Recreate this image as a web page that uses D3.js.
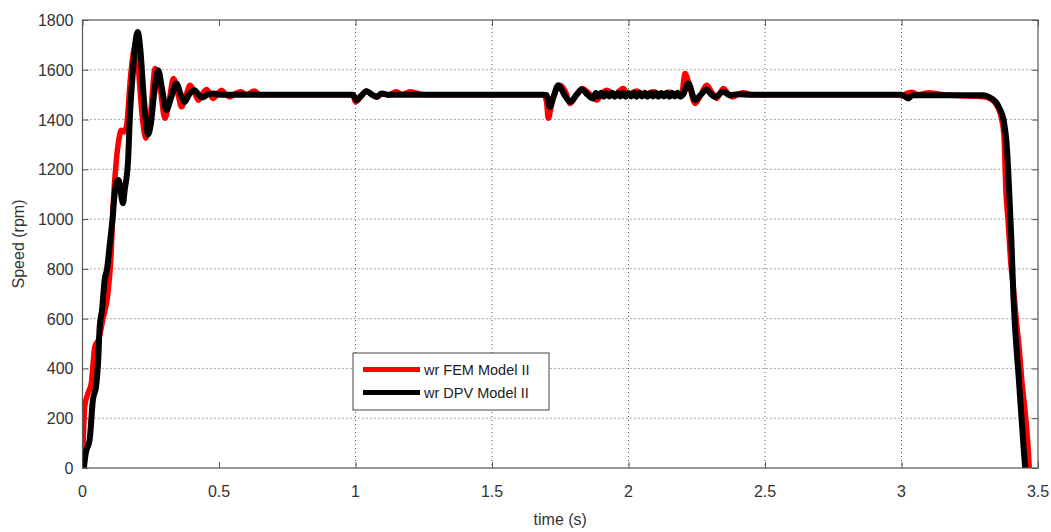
<!DOCTYPE html>
<html>
<head>
<meta charset="utf-8">
<script src="https://cdn.jsdelivr.net/npm/d3@7"></script>
<style>
  body { margin: 0; background: #fff; }
  svg text { font-family: "Liberation Sans", Arial, sans-serif; }
</style>
</head>
<body>
<div id="chart"></div>
<script>
// ---- data ----
const xTicks = [0, 0.5, 1, 1.5, 2, 2.5, 3, 3.5];
const yTicks = [0, 200, 400, 600, 800, 1000, 1200, 1400, 1600, 1800];
const seriesNames = ["wr FEM Model II", "wr DPV Model II"];

// FEM (red)
const femTime = [0, 0.008, 0.02, 0.032, 0.045, 0.06, 0.075, 0.093, 0.105, 0.112, 0.124, 0.135, 0.142, 0.152, 0.162,
  0.175, 0.188, 0.197, 0.208, 0.22, 0.232, 0.25, 0.266, 0.285, 0.302, 0.318, 0.333, 0.348, 0.363, 0.38, 0.394,
  0.41, 0.424, 0.44, 0.455, 0.468, 0.478, 0.495, 0.51, 0.525, 0.54, 0.56, 0.58, 0.6, 0.63, 0.65, 0.7,
  0.99, 1.0, 1.015, 1.04, 1.06, 1.078, 1.1, 1.12, 1.15, 1.17, 1.2, 1.25, 1.3,
  1.69, 1.7, 1.706, 1.72, 1.749, 1.77, 1.786, 1.81, 1.83, 1.86, 1.884, 1.9, 1.92, 1.95, 1.98, 2.0, 2.03, 2.06,
  2.09, 2.12, 2.15, 2.18, 2.195, 2.207, 2.22, 2.244, 2.265, 2.286, 2.305, 2.323, 2.347, 2.365, 2.38, 2.4, 2.42,
  2.45, 2.5, 2.99, 3.0, 3.02, 3.04, 3.06, 3.1, 3.15, 3.3, 3.33, 3.35, 3.365, 3.375, 3.383, 3.39, 3.4, 3.41,
  3.42, 3.432, 3.44, 3.455, 3.465, 3.468];
const femSpeed = [0, 246, 300, 340, 487, 520, 600, 700, 863, 1050, 1237, 1330, 1357, 1350, 1380,
  1560, 1680, 1710, 1560, 1400, 1325, 1430, 1605, 1520, 1405, 1480, 1565, 1510, 1451, 1500, 1538,
  1510, 1478, 1505, 1521, 1500, 1485, 1505, 1518, 1500, 1491, 1505, 1512, 1500, 1515, 1500, 1500,
  1500, 1470, 1485, 1515, 1500, 1490, 1505, 1498, 1512, 1500, 1512, 1500, 1500,
  1500, 1470, 1405, 1470, 1538, 1510, 1465, 1500, 1525, 1500, 1478, 1500, 1518, 1500, 1525, 1500, 1515, 1498,
  1512, 1500, 1510, 1500, 1505, 1585, 1550, 1465, 1500, 1538, 1510, 1485, 1525, 1505, 1491, 1500, 1508,
  1500, 1500, 1500, 1495, 1505, 1510, 1500, 1508, 1500, 1492, 1480, 1455, 1410, 1340, 1100, 1000, 830, 720,
  600, 470, 360, 200, 60, 0];

// DPV (black)
const dpvTime = [0.005, 0.012, 0.026, 0.038, 0.05, 0.057, 0.063, 0.072, 0.081, 0.09, 0.1, 0.11, 0.118, 0.125,
  0.132, 0.14, 0.148, 0.155, 0.167, 0.173, 0.185, 0.195, 0.203, 0.212, 0.225, 0.24, 0.25, 0.262, 0.277, 0.292,
  0.307, 0.325, 0.344, 0.36, 0.374, 0.39, 0.411, 0.425, 0.441, 0.46, 0.48, 0.5,
  0.99, 1.004, 1.02, 1.041, 1.06, 1.078, 1.095, 1.12,
  1.69, 1.7, 1.712, 1.725, 1.743, 1.765, 1.786, 1.81, 1.829, 1.85, 1.871,
  1.88, 1.89, 1.9, 1.91, 1.92, 1.93, 1.94, 1.95, 1.96, 1.97, 1.98, 1.99, 2.0, 2.01, 2.02, 2.03, 2.04, 2.05,
  2.06, 2.07, 2.08, 2.09, 2.1, 2.11, 2.12, 2.13, 2.14, 2.15, 2.16, 2.17, 2.18, 2.19, 2.2,
  2.219, 2.244, 2.265, 2.286, 2.3, 2.317, 2.347, 2.37, 2.4, 2.45,
  3.0, 3.025, 3.04, 3.3, 3.32, 3.345, 3.362, 3.374, 3.386, 3.395, 3.402, 3.41, 3.43, 3.447, 3.453];
const dpvSpeed = [0, 60, 112, 273, 330, 422, 567, 640, 755, 800, 900, 1000, 1103, 1150,
  1157, 1110, 1064, 1120, 1237, 1398, 1598, 1720, 1752, 1680, 1480, 1340, 1380, 1500, 1598, 1520,
  1438, 1490, 1545, 1500, 1471, 1500, 1518, 1500, 1489, 1502, 1505, 1500,
  1500, 1478, 1495, 1514, 1500, 1492, 1505, 1500,
  1500, 1498, 1451, 1490, 1538, 1500, 1471, 1500, 1521, 1500, 1485,
  1507, 1493, 1508, 1492, 1507, 1493, 1508, 1492, 1507, 1493, 1508, 1492, 1507, 1493, 1508, 1492, 1507, 1493,
  1508, 1492, 1507, 1493, 1508, 1492, 1507, 1493, 1508, 1492, 1507, 1493, 1508, 1492, 1500,
  1545, 1478, 1500, 1521, 1505, 1491, 1512, 1498, 1502, 1500,
  1500, 1485, 1498, 1498, 1491, 1471, 1438, 1398, 1290, 1100, 930, 688, 353, 86, 0];

// ---- layout ----
const width = 1051, height = 532;
const margin = { top: 20, right: 13, bottom: 64, left: 82.5 };
const innerWidth = width - margin.left - margin.right;
const innerHeight = height - margin.top - margin.bottom;
const FONT_SIZE = 16;

const svg = d3.select('#chart')
  .append('svg')
  .attr('width', width)
  .attr('height', height);

const g = svg.append('g')
  .attr('transform', `translate(${margin.left}, ${margin.top})`);

const x = d3.scaleLinear().domain([0, 3.5]).range([0, innerWidth]);
const y = d3.scaleLinear().domain([0, 1800]).range([innerHeight, 0]);

// grid (dotted)
g.append('g')
  .selectAll('line')
  .data(xTicks.filter(d => d > 0.5 && d < 3.5))
  .enter().append('line')
  .attr('x1', d => x(d)).attr('x2', d => x(d))
  .attr('y1', 0).attr('y2', innerHeight)
  .attr('stroke', '#555')
  .attr('stroke-width', 1)
  .attr('stroke-dasharray', '1,3');

g.append('g')
  .selectAll('line')
  .data(yTicks.filter(d => d > 0 && d < 1800))
  .enter().append('line')
  .attr('x1', 0).attr('x2', innerWidth)
  .attr('y1', d => y(d)).attr('y2', d => y(d))
  .attr('stroke', '#555')
  .attr('stroke-width', 1)
  .attr('stroke-dasharray', '1,3');

// tick marks pointing inward on all four sides (labels drawn separately)
const tickStyle = sel => {
  sel.select('.domain').remove();
  sel.selectAll('.tick line').attr('stroke', '#555');
  sel.selectAll('.tick text').remove();
};

g.append('g')
  .attr('transform', `translate(0, ${innerHeight})`)
  .call(d3.axisBottom(x).tickValues(xTicks).tickSizeInner(-6).tickSizeOuter(0))
  .call(tickStyle);

g.append('g')
  .call(d3.axisTop(x).tickValues(xTicks).tickSizeInner(-6).tickSizeOuter(0))
  .call(tickStyle);

g.append('g')
  .call(d3.axisLeft(y).tickValues(yTicks).tickSizeInner(-6).tickSizeOuter(0))
  .call(tickStyle);

g.append('g')
  .attr('transform', `translate(${innerWidth}, 0)`)
  .call(d3.axisRight(y).tickValues(yTicks).tickSizeInner(-6).tickSizeOuter(0))
  .call(tickStyle);

// tick labels
g.append('g')
  .selectAll('text')
  .data(xTicks)
  .enter().append('text')
  .attr('x', d => x(d))
  .attr('y', innerHeight + 29)
  .attr('text-anchor', 'middle')
  .style('font-size', `${FONT_SIZE}px`)
  .attr('fill', '#333')
  .text(d => d);

g.append('g')
  .selectAll('text')
  .data(yTicks)
  .enter().append('text')
  .attr('x', -9)
  .attr('y', d => y(d) + 6)
  .attr('text-anchor', 'end')
  .style('font-size', `${FONT_SIZE}px`)
  .attr('fill', '#333')
  .text(d => d);

// clip for the curves
svg.append('defs').append('clipPath').attr('id', 'plotClip')
  .append('rect').attr('width', innerWidth).attr('height', innerHeight);

const line = d3.line()
  .curve(d3.curveMonotoneX)
  .x(d => x(d[0]))
  .y(d => y(d[1]));

const femData = femTime.map((t, i) => [t, femSpeed[i]]);
const dpvData = dpvTime.map((t, i) => [t, dpvSpeed[i]]);

const curves = g.append('g').attr('clip-path', 'url(#plotClip)');

curves.append('path')
  .datum(femData)
  .attr('d', line)
  .attr('fill', 'none')
  .attr('stroke', '#ff0000')
  .attr('stroke-width', 5.5)
  .attr('stroke-linejoin', 'round');

curves.append('path')
  .datum(dpvData)
  .attr('d', line)
  .attr('fill', 'none')
  .attr('stroke', '#000')
  .attr('stroke-width', 6)
  .attr('stroke-linejoin', 'round');

// box
g.append('rect')
  .attr('width', innerWidth)
  .attr('height', innerHeight)
  .attr('fill', 'none')
  .attr('stroke', '#555')
  .attr('stroke-width', 1.2);

// axis labels
svg.append('text')
  .attr('x', margin.left + innerWidth / 2)
  .attr('y', 525)
  .attr('text-anchor', 'middle')
  .style('font-size', `${FONT_SIZE}px`)
  .attr('fill', '#333')
  .text('time (s)');

svg.append('text')
  .attr('transform', `translate(24, ${margin.top + innerHeight / 2}) rotate(-90)`)
  .attr('text-anchor', 'middle')
  .style('font-size', `${FONT_SIZE}px`)
  .attr('fill', '#333')
  .text('Speed (rpm)');

// legend
const legend = svg.append('g').attr('transform', 'translate(353, 353)');
legend.append('rect')
  .attr('width', 196)
  .attr('height', 57)
  .attr('fill', '#fff')
  .attr('stroke', '#444')
  .attr('stroke-width', 1);

const legendColors = ['#ff0000', '#000'];
legend.selectAll('line')
  .data(seriesNames)
  .enter().append('line')
  .attr('x1', 10).attr('x2', 67)
  .attr('y1', (d, i) => 16.5 + i * 23).attr('y2', (d, i) => 16.5 + i * 23)
  .attr('stroke', (d, i) => legendColors[i])
  .attr('stroke-width', 5);

legend.selectAll('text')
  .data(seriesNames)
  .enter().append('text')
  .attr('x', 71)
  .attr('y', (d, i) => 21.5 + i * 23)
  .style('font-size', '14.5px')
  .attr('fill', '#222')
  .text(d => d);
</script>
</body>
</html>
